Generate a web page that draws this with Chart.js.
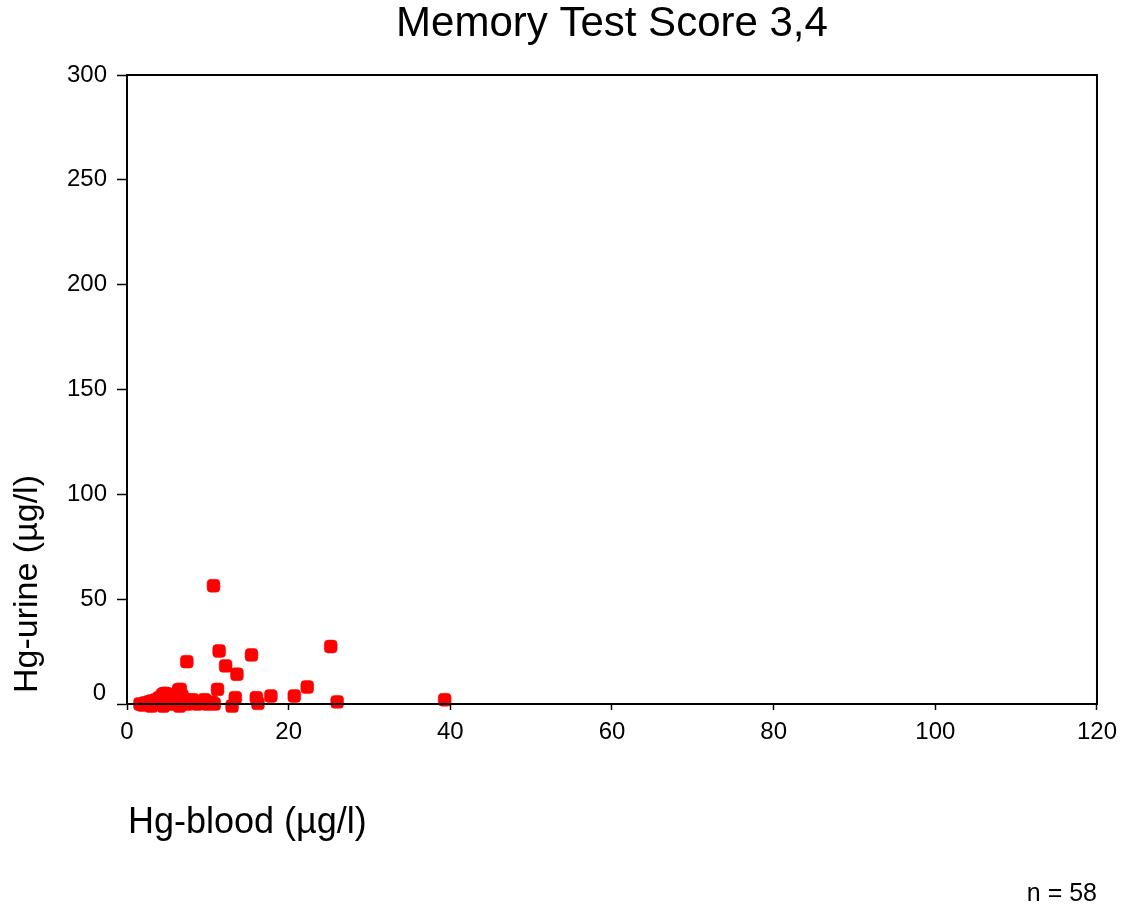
<!DOCTYPE html>
<html>
<head>
<meta charset="utf-8">
<script src="https://cdn.jsdelivr.net/npm/chart.js@4/dist/chart.umd.min.js"></script>
<style>
  html, body { margin: 0; padding: 0; background: #fff; }
</style>
</head>
<body>
<canvas id="scatterChart" width="1125" height="908"></canvas>
<script>
// Chart data
const chartTitle = "Memory Test Score 3,4";
const xTitle = "Hg-blood (µg/l)";
const yTitle = "Hg-urine (µg/l)";
const countLabel = "n = 58";

const xTicks = [0, 20, 40, 60, 80, 100, 120];
const yTicks = [0, 50, 100, 150, 200, 250, 300];

// Hg-blood values (x)
const hgBlood = [
  10.7, 11.4, 7.4, 12.2, 13.6, 15.4, 25.2, 22.3, 20.7, 17.8,
  16.0, 16.2, 13.4, 13.0, 11.2, 26.0, 39.3,
  1.6, 1.9, 2.2, 2.4, 2.7, 2.9, 3.1, 3.3, 3.6, 3.8,
  4.0, 4.2, 4.4, 4.6, 4.8, 5.0, 5.2, 5.5, 5.7, 6.0,
  6.2, 6.4, 6.6, 6.8, 7.0, 7.2, 7.5, 7.8, 8.1, 8.4,
  8.7, 9.0, 9.3, 9.6, 9.9, 10.2, 10.5, 10.8, 4.5, 6.5, 3.0
];

// Hg-urine values (y)
const hgUrine = [
  56.4, 25.3, 20.2, 18.2, 14.2, 23.4, 27.4, 8.1, 3.8, 3.8,
  3.0, 0.3, 3.0, -1.0, 7.0, 1.0, 2.0,
  0, -0.5, 0.5, 0, 1, 0, 1.5, 0, 2, 0.5,
  3, 1, 4.5, 5, 5, 2, 1, 3, 0, 2,
  5, 6.8, 7, 4, 1, 2, 0, 0.5, 2, 1,
  0, 1, 0.5, 2, 0, 0.5, 1, 0, -1, -1, -1
];

const points = hgBlood.map((x, i) => ({ x: x, y: hgUrine[i] }));
const fontFamily = "'Liberation Sans', Arial, Helvetica, sans-serif";

// Frame around the plot area plus the free-standing texts
const decorPlugin = {
  id: "decor",
  afterDraw(chart) {
    const ctx = chart.ctx;
    const area = chart.chartArea;
    ctx.save();
    ctx.strokeStyle = "#000";
    ctx.lineWidth = 2;
    ctx.strokeRect(area.left, area.top, area.right - area.left, area.bottom - area.top);

    ctx.fillStyle = "#000";

    // the zero label of the y axis sits a little above its tick
    ctx.font = "24px " + fontFamily;
    ctx.textAlign = "right";
    ctx.textBaseline = "middle";
    ctx.fillText(String(yTicks[0]), area.left - 21, chart.scales.y.getPixelForValue(yTicks[0]) - 11);

    ctx.textBaseline = "alphabetic";
    ctx.font = "42px " + fontFamily;
    ctx.textAlign = "center";
    ctx.fillText(chartTitle, (area.left + area.right) / 2, 36);

    ctx.font = "36px " + fontFamily;
    ctx.textAlign = "left";
    ctx.fillText(xTitle, 128, 833);

    ctx.font = "25px " + fontFamily;
    ctx.textAlign = "right";
    ctx.fillText(countLabel, 1097, 901);

    ctx.translate(37, 584);
    ctx.rotate(-Math.PI / 2);
    ctx.font = "34px " + fontFamily;
    ctx.textAlign = "center";
    ctx.fillText(yTitle, 0, 0);
    ctx.restore();
  },
};

new Chart(document.getElementById("scatterChart"), {
  type: "scatter",
  data: {
    datasets: [
      {
        data: points,
        pointStyle: "rectRounded",
        pointRadius: 7.5,
        backgroundColor: "#ff0000",
        borderColor: "#ff0000",
        borderWidth: 0.5,
        clip: false,
      },
    ],
  },
  options: {
    responsive: false,
    animation: false,
    devicePixelRatio: 1,
    layout: {
      padding: { top: 75, right: 27, left: 0, bottom: 0 },
    },
    plugins: {
      legend: { display: false },
      tooltip: { enabled: false },
      title: { display: false },
    },
    scales: {
      x: {
        type: "linear",
        position: "bottom",
        min: 0,
        max: 120,
        afterBuildTicks: (scale) => {
          scale.ticks = xTicks.map((v) => ({ value: v }));
        },
        afterFit: (scale) => {
          scale.height = 204;
        },
        ticks: {
          color: "#000",
          padding: 8,
          font: { family: fontFamily, size: 24 },
        },
        grid: {
          drawOnChartArea: false,
          drawTicks: true,
          tickLength: 6,
          tickColor: "#000",
          tickWidth: 1.5,
        },
        border: { color: "#000", width: 2 },
      },
      y: {
        type: "linear",
        min: 0,
        max: 300,
        afterBuildTicks: (scale) => {
          scale.ticks = yTicks.map((v) => ({ value: v }));
        },
        afterFit: (scale) => {
          scale.width = 127;
        },
        ticks: {
          color: "#000",
          padding: 10,
          font: { family: fontFamily, size: 24 },
          // zero is drawn by the decor plugin, slightly raised
          callback: (value) => (value === 0 ? "" : value),
        },
        grid: {
          drawOnChartArea: false,
          drawTicks: true,
          tickLength: 10,
          tickColor: "#000",
          tickWidth: 1.5,
        },
        border: { color: "#000", width: 2 },
      },
    },
  },
  plugins: [decorPlugin],
});
</script>
</body>
</html>
